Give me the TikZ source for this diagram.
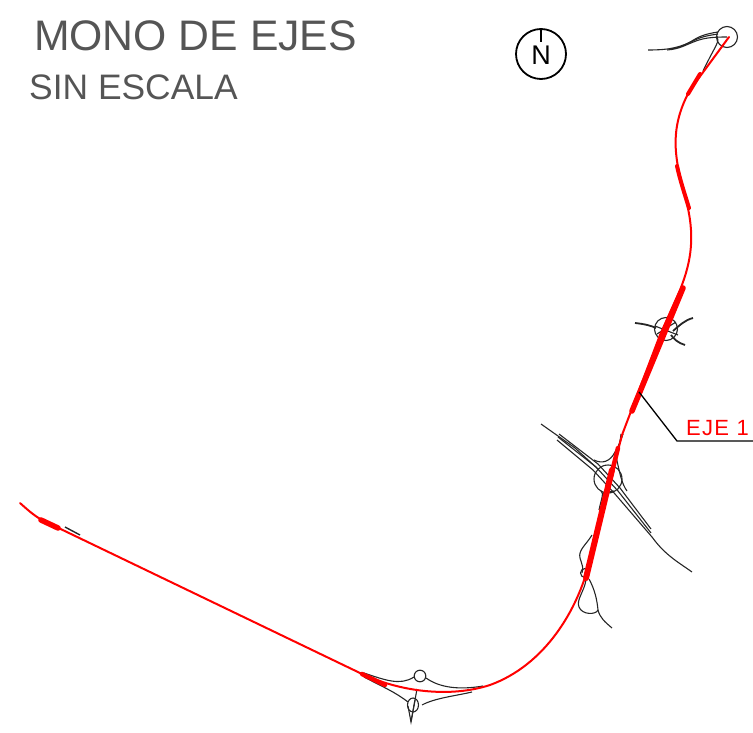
\documentclass[tikz,border=0pt]{standalone}
\usepackage{fontspec}
\setmainfont{Liberation Sans}
\definecolor{titlegray}{HTML}{555555}
\tikzset{
	eje/.style = {red, line width = 2 pt, line cap = round, line join = round},
	ejethick/.style = {red, line width = 5.5 pt, line cap = round},
	ramal/.style = {black!85, line width = 1.1 pt},
	titulo/.style = {titlegray, inner sep = 0 pt, anchor = base west}
}
\begin{document}
\begin{tikzpicture}[x = 1 pt, y = -1 pt]

	\useasboundingbox (0, 0) rectangle (753, 733);

	% Titles

	\node [titulo, font = \fontsize{42.7}{42.7}\selectfont] (title) at (34, 51) {MONO DE EJES};
	\node [titulo, font = \fontsize{35.4}{35.4}\selectfont] (subtitle) at (29, 100) {SIN ESCALA};

	% North mark

	\node [circle, draw, line width = 1.8 pt, minimum size = 50 pt, inner sep = 0 pt, font = \fontsize{27}{27}\selectfont] (north) at (541, 54) {};
	\node [inner sep = 0 pt, anchor = base, font = \fontsize{27}{27}\selectfont] (north letter) at (541, 65) {N};
	\draw [line width = 1.6 pt] (north.north) -- ++ (0, 14);

	% Upper junction

	\draw [ramal] (727, 37) circle (10.5);
	\draw [ramal] (648, 50) .. controls (672, 50) and (680, 47) .. (695, 40) .. controls (703, 36) and (712, 35) .. (718, 34);
	\draw [ramal] (667, 50) .. controls (680, 49) and (685, 45) .. (696, 41) .. controls (704, 38) and (712, 37) .. (727, 37);
	\draw [ramal] (670, 49) .. controls (682, 48) and (688, 43) .. (697, 38) .. controls (705, 34) and (712, 33) .. (718, 32);
	\draw [ramal] (717, 36) .. controls (720, 42) and (716, 44) .. (703, 71);

	% Middle junction

	\draw [ramal, line width = 1.8 pt] (635, 323) .. controls (645, 324) and (652, 326) .. (656, 328);
	\draw [ramal, line width = 1.8 pt] (693, 318) .. controls (685, 320) and (680, 325) .. (673, 331);
	\draw [ramal, line width = 1.8 pt] (685, 345) .. controls (678, 343) and (674, 339) .. (671, 335);
	\draw [ramal] (666, 329) circle (11.5);
	\draw [ramal] (655, 326) -- (678, 335);
	\draw [ramal] (657, 334) -- (676, 322);

	% Roundabout

	\draw [ramal] (608, 479) circle (14);
	\draw [ramal] (541, 424) -- (575, 448) -- (598, 469);
	\draw [ramal] (559, 434) -- (598, 464) -- (620, 488) -- (651, 529);
	\draw [ramal] (558, 437) -- (596, 467) -- (618, 491) -- (651, 533);
	\draw [ramal] (557, 440) -- (593, 470) -- (615, 494) -- (652, 537) .. controls (665, 555) and (678, 562) .. (692, 572);
	\draw [ramal] (594, 460) .. controls (602, 464) and (610, 462) .. (615, 452) .. controls (620, 444) and (620, 442) .. (621, 434);
	\draw [ramal] (618, 448) -- (623, 434);
	\draw [ramal] (616, 456) .. controls (620, 475) and (622, 484) .. (627, 491);
	\draw [ramal] (601, 491) .. controls (604, 494) and (602, 496) .. (599, 510);
	\draw [ramal] (602, 494) .. controls (606, 492) and (610, 492) .. (614, 491);

	% Loops

	\draw [ramal] (592, 535) .. controls (586, 545) and (578, 550) .. (580, 558) .. controls (582, 565) and (584, 568) .. (582, 573);
	\draw [ramal] (585, 573) circle (4.5);
	\draw [ramal] (586, 580) .. controls (584, 592) and (576, 600) .. (579, 607) .. controls (582, 615) and (596, 615) .. (598, 610);
	\draw [ramal] (589, 579) .. controls (595, 590) and (597, 600) .. (598, 610) .. controls (600, 618) and (605, 622) .. (612, 628);

	% Lower junction

	\draw [ramal] (420, 676) circle (5.8);
	\draw [ramal] (364, 673) .. controls (385, 680) and (400, 686) .. (414, 677);
	\draw [ramal] (426, 678) .. controls (440, 688) and (460, 690) .. (483, 686);
	\draw [ramal] (364, 677) .. controls (385, 688) and (395, 692) .. (408, 702);
	\draw [ramal] (422, 705) .. controls (435, 698) and (455, 696) .. (472, 692);
	\draw [ramal] (413, 705) ellipse (5.5 and 7);
	\draw [ramal] (417, 689) -- (411, 722);
	\draw [ramal] (415, 700) -- (411, 722) -- (408, 706);

	% Ramp at the far end

	\draw [ramal, line width = 1.4 pt] (65, 527) -- (80, 535);

	% Main axis

	\draw [eje] (20, 503) .. controls (30, 512) and (36, 517) .. (44, 521) -- (360, 673)
		.. controls (400, 692) and (450, 698) .. (490, 685)
		.. controls (545, 665) and (578, 610) .. (590, 560)
		-- (622, 435) -- (660, 335) -- (680, 290)
		.. controls (692, 260) and (695, 235) .. (686, 200)
		.. controls (675, 160) and (668, 130) .. (690, 90)
		-- (729, 37);

	% Thick stretches

	\draw [ejethick] (41, 520) -- (58, 528);
	\draw [ejethick, line width = 4.5 pt] (362, 674) -- (385, 685);
	\draw [ejethick, line width = 6 pt] (586, 578) -- (612, 470);
	\draw [ejethick, line width = 4.5 pt] (611, 476) -- (618, 448);
	\draw [ejethick] (632, 411) -- (683, 288);
	\draw [ejethick, line width = 4 pt] (677, 166) .. controls (680, 180) and (685, 195) .. (689, 208);
	\draw [ejethick, line width = 4 pt] (688, 94) -- (700, 74);

	% Axis label

	\coordinate (leader start) at (639, 392);
	\coordinate (leader knee) at (677, 441);
	\coordinate (leader end) at (753, 441);
	\draw [line width = 1.3 pt] (leader start) -- (leader knee) -- (leader end);
	\node [red, inner sep = 0 pt, anchor = base west, font = \fontsize{22}{22}\selectfont\addfontfeatures{LetterSpace = 6}] (axis label) at (686, 435) {EJE 1};

\end{tikzpicture}
\end{document}
